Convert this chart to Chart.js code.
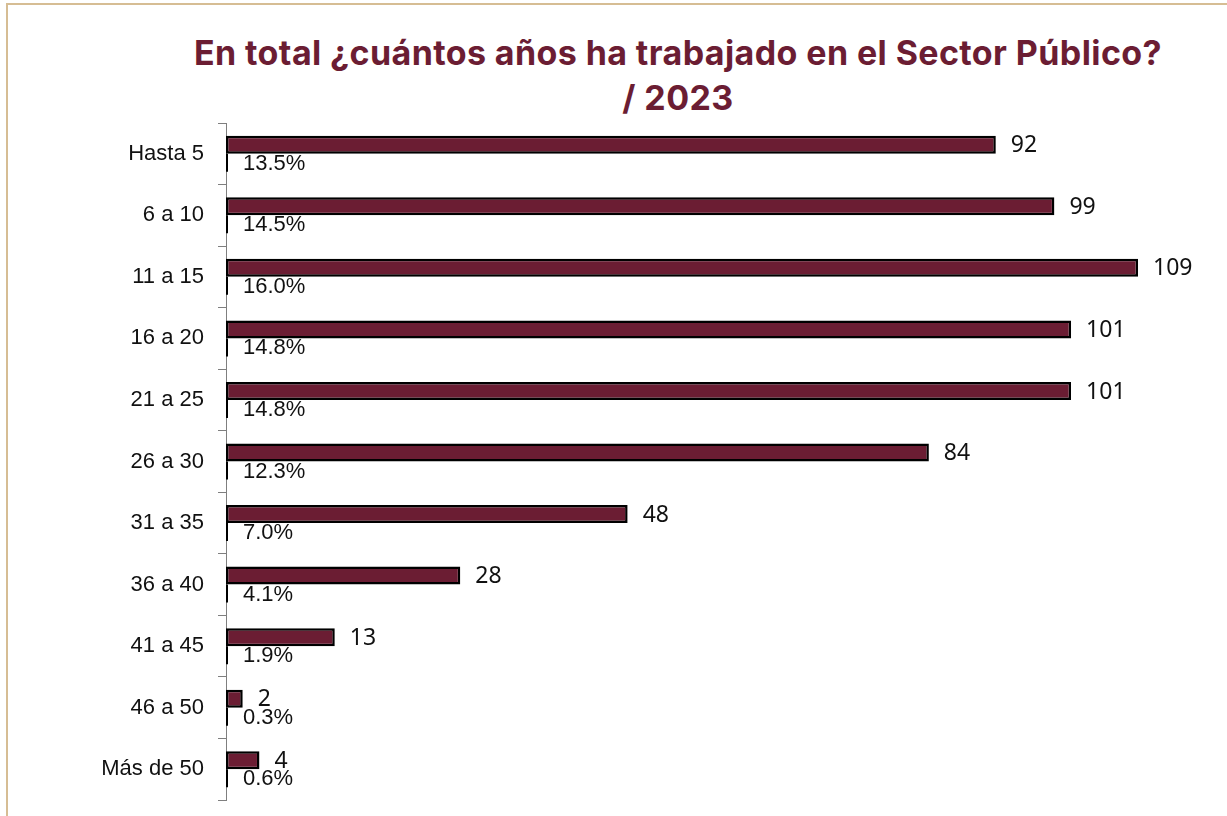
<!DOCTYPE html>
<html lang="es">
<head>
<meta charset="utf-8">
<script src="https://cdn.jsdelivr.net/npm/chart.js@4.4.1/dist/chart.umd.min.js"></script>
<style>
  html, body { margin: 0; padding: 0; background: #fff; }
  body { width: 1227px; height: 816px; position: relative; overflow: hidden; }
  .frame {
    position: absolute; left: 6px; top: 3px; width: 1240px; height: 840px;
    border-left: 2px solid #d6bd94; border-top: 2px solid #d6bd94;
  }
  .title {
    position: absolute; left: 0; top: 30px; width: 1356px; text-align: center;
    font-family: Inter, "Noto Sans", sans-serif; font-weight: 700; font-size: 34px;
    letter-spacing: 0.4px; line-height: 45px; color: #6b1d33;
  }
  .wrap { position: absolute; left: 0; top: 0; width: 1227px; height: 816px; }
</style>
</head>
<body>
<div class="frame"></div>
<div class="title">En total ¿cuántos años ha trabajado en el Sector Público?<br>/ 2023</div>
<div class="wrap"><canvas id="chart"></canvas></div>
<script>
const categories = ["Hasta 5", "6 a 10", "11 a 15", "16 a 20", "21 a 25", "26 a 30",
                    "31 a 35", "36 a 40", "41 a 45", "46 a 50", "Más de 50"];
const counts = [92, 99, 109, 101, 101, 84, 48, 28, 13, 2, 4];
const shares = [0.135, 0.145, 0.160, 0.148, 0.148, 0.123, 0.070, 0.041, 0.019, 0.003, 0.006];

// draws the value next to the end of each bar
const barLabels = {
  id: "barLabels",
  afterDatasetsDraw(chart) {
    const ctx = chart.ctx;
    ctx.save();
    ctx.textBaseline = "middle";
    ctx.textAlign = "left";
    ctx.fillStyle = "#111";
    chart.data.datasets.forEach((ds, i) => {
      const meta = chart.getDatasetMeta(i);
      meta.data.forEach((bar, j) => {
        const v = ds.data[j];
        if (i === 0) {
          ctx.font = "23px 'Noto Sans'";
          ctx.fillText(String(v), bar.x + 15, bar.y + 1);
        } else {
          ctx.font = "22px 'Liberation Sans'";
          ctx.fillText((v * 100).toFixed(1) + "%", bar.x + 15, bar.y + 1);
        }
      });
    });
    ctx.restore();
  }
};

new Chart(document.getElementById("chart"), {
  type: "bar",
  data: {
    labels: categories,
    datasets: [
      {
        label: "Personas",
        data: counts,
        backgroundColor: "#6b1d33",
        borderColor: "#000",
        borderWidth: 2.5,
        borderSkipped: false
      },
      {
        label: "Porcentaje",
        data: shares,
        backgroundColor: "#000",
        borderColor: "#000",
        borderWidth: 0,
        minBarLength: 2
      }
    ]
  },
  options: {
    indexAxis: "y",
    responsive: true,
    maintainAspectRatio: false,
    animation: false,
    layout: { padding: { top: 123, bottom: 16, right: 22, left: 0 } },
    datasets: { bar: { categoryPercentage: 0.585, barPercentage: 1 } },
    plugins: {
      legend: { display: false },
      tooltip: { enabled: false }
    },
    scales: {
      x: { display: false, min: 0, max: 117 },
      y: {
        afterFit(scale) {
          scale.width = 226;
          scale.paddingTop = 0;
          scale.paddingBottom = 0;
        },
        grid: {
          offset: true,
          drawOnChartArea: false,
          drawTicks: true,
          tickLength: 8,
          color: "#7f7f7f"
        },
        border: { display: true, color: "#7f7f7f", width: 1 },
        ticks: {
          padding: 14,
          color: "#111",
          font: { family: "'Liberation Sans'", size: 22 }
        }
      }
    }
  },
  plugins: [barLabels]
});
</script>
</body>
</html>
